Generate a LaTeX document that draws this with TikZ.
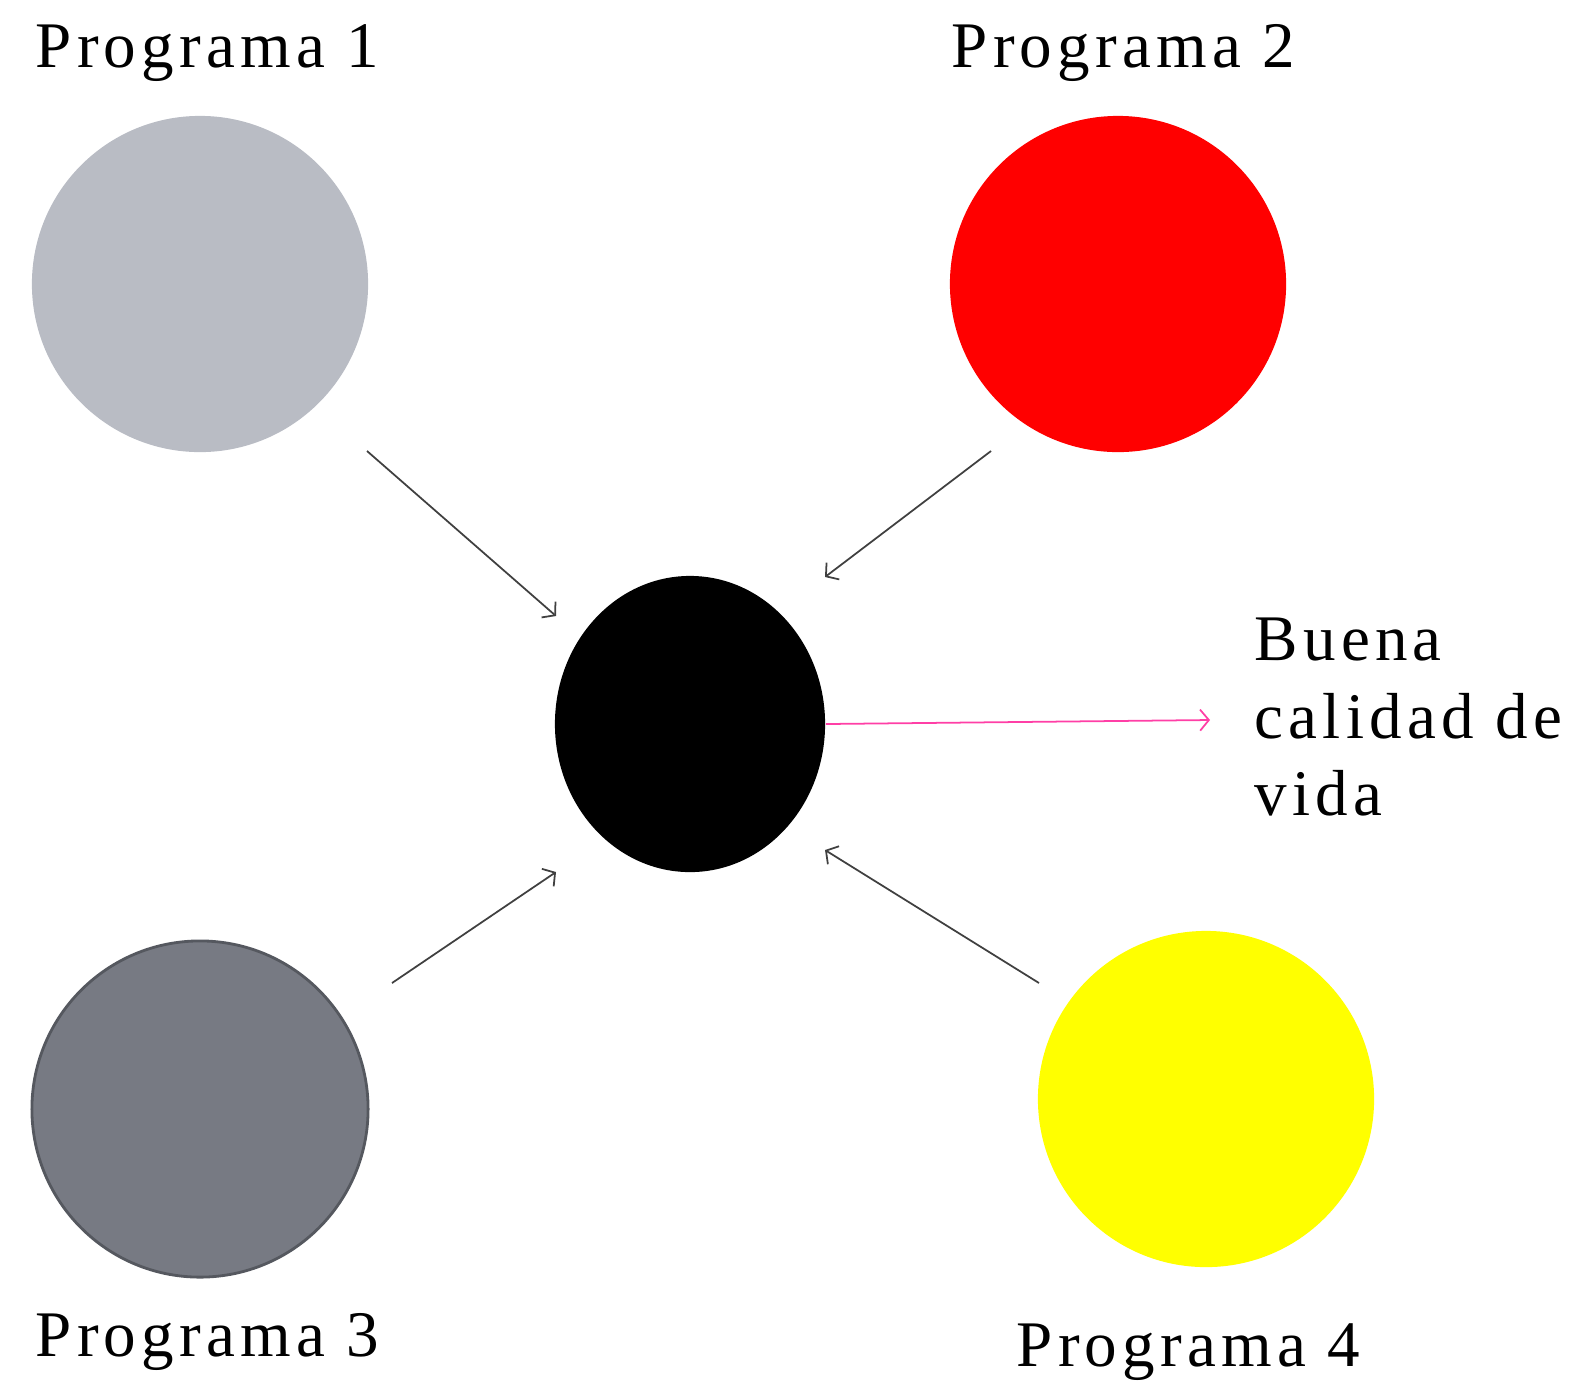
\documentclass[tikz,border=0pt]{standalone}
\usepackage{fontspec}
\setmainfont[LetterSpace=8]{Liberation Serif}
\usetikzlibrary{shapes.geometric, arrows.meta, positioning}
\definecolor{grisclaro}{HTML}{B9BCC4}
\definecolor{grisoscuro}{HTML}{777A83}
\definecolor{bordegris}{HTML}{55585F}
\definecolor{rojoprog}{HTML}{FF0000}
\definecolor{amarilloprog}{HTML}{FFFF00}
\definecolor{flecha}{HTML}{404040}
\definecolor{rosa}{HTML}{FF3FA6}

\tikzset{
  programa/.style={circle, inner sep=0pt, minimum size=3.36cm},
  etiqueta/.style={anchor=base west, inner sep=0pt, font=\fontsize{18.5}{21.9}\selectfont},
  flechita/.style={draw=flecha, line width=0.5pt, -{Straight Barb[length=2.5pt, width=6pt]}}
}

\begin{document}
\begin{tikzpicture}[x=0.01cm, y=-0.01cm]
    \useasboundingbox (0,0) rectangle (1577,1381);

    % circulos de los programas
    \node[programa, fill=grisclaro] (prog1) at (200,284) {};
    \node[programa, fill=rojoprog] (prog2) at (1118,284) {};
    \node[programa, fill=grisoscuro, draw=bordegris, line width=0.8pt] (prog3) at (200,1109) {};
    \node[programa, fill=amarilloprog] (prog4) at (1206,1099) {};
    \node[ellipse, fill=black, inner sep=0pt, minimum width=2.7cm, minimum height=2.96cm] (centro) at (690,724) {};

    % textos
    \node[etiqueta] (tit1) at (35,67) {Programa 1};
    \node[etiqueta] (tit2) at (951,67) {Programa 2};
    \node[etiqueta] (tit3) at (35,1356) {Programa 3};
    \node[etiqueta] (tit4) at (1016,1366) {Programa 4};
    \node[etiqueta, align=left] (calidad) at (1254,815) {Buena\\calidad de\\vida};

    % puntas de las flechas
    \coordinate (s1) at (367,451);
    \coordinate (e1) at (556,616);
    \coordinate (s2) at (991,451);
    \coordinate (e2) at (825,577);
    \coordinate (s3) at (392,983);
    \coordinate (e3) at (556,872);
    \coordinate (s4) at (1039,983);
    \coordinate (e4) at (825,850);
    \coordinate (meta) at (1210,720);

    \draw[flechita] (s1) -- (e1);
    \draw[flechita] (s2) -- (e2);
    \draw[flechita] (s3) -- (e3);
    \draw[flechita] (s4) -- (e4);
    \draw[flechita, draw=rosa] (centro.east) -- (meta);
\end{tikzpicture}
\end{document}
